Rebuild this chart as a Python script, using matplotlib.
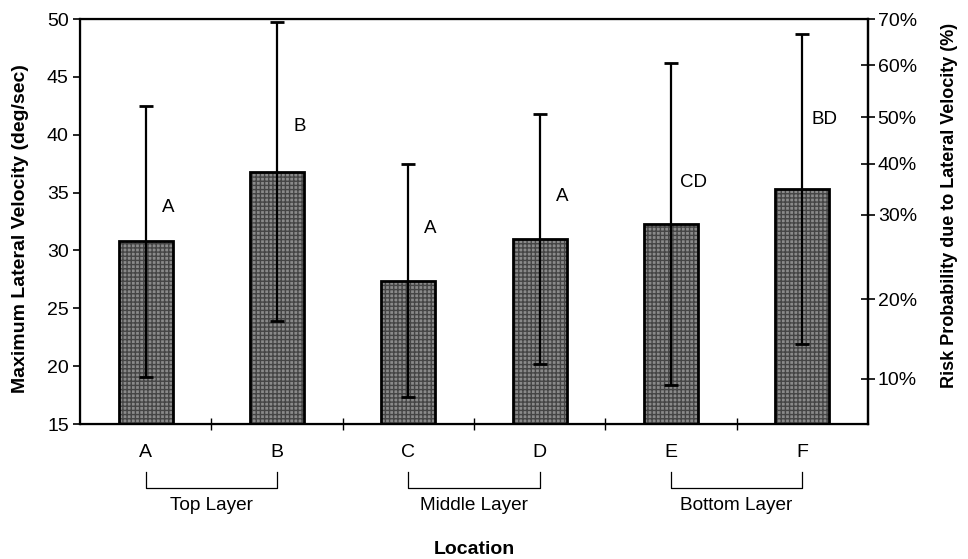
import numpy as np
import matplotlib
matplotlib.use("Agg")
import matplotlib.pyplot as plt
import matplotlib.transforms as mtransforms

plt.rcParams["font.family"] = ["Liberation Sans", "DejaVu Sans"]

# values
locations = ["A", "B", "C", "D", "E", "F"]
mean_vel = [30.8, 36.8, 27.4, 31.0, 32.3, 35.3]
sd_vel = [11.7, 12.9, 10.1, 10.8, 13.9, 13.4]
group_letters = ["A", "B", "A", "A", "CD", "BD"]
letter_y = [33.7, 40.7, 31.9, 34.7, 35.9, 41.3]
layers = ["Top Layer", "Middle Layer", "Bottom Layer"]
layer_span = [(0, 1), (2, 3), (4, 5)]
# right axis: risk tick positions on the velocity scale
risk_pos = [18.9, 25.8, 33.1, 37.5, 41.5, 46.0, 50.0]
risk_labels = ["10%", "20%", "30%", "40%", "50%", "60%", "70%"]


def main() -> None:
    fig = plt.figure(figsize=(9.68, 5.59), dpi=100)
    ax = fig.add_axes([0.0826, 0.2415, 0.8141, 0.7245])
    x = np.arange(len(locations))

    # stippled grey bars with black outline
    ax.bar(x, [m - 15 for m in mean_vel], bottom=15, width=0.41,
           color="#8a8a8a", edgecolor="#454545", hatch="++++", linewidth=0, zorder=2)
    ax.bar(x, [m - 15 for m in mean_vel], bottom=15, width=0.41,
           fill=False, edgecolor="black", linewidth=2, zorder=3)
    ax.errorbar(x, mean_vel, yerr=sd_vel, fmt="none", ecolor="black",
                elinewidth=1.6, capsize=5, capthick=2, zorder=4)

    for xi, lab, ly in zip(x, group_letters, letter_y):
        ax.text(xi + 0.17, ly, lab, fontsize=13.5, ha="center", va="center")

    ax.set_xlim(-0.5, 5.5)
    ax.set_ylim(15, 50)
    ax.set_yticks(np.arange(15, 51, 5))
    ax.tick_params(axis="y", direction="out", length=5, width=1.2, labelsize=14, pad=3)
    ax.set_xticks(np.arange(0.5, 5, 1))
    ax.set_xticklabels([])
    ax.tick_params(axis="x", direction="inout", length=8, width=1)
    for s in ax.spines.values():
        s.set_linewidth(1.6)

    fig.text(0.021, 0.592, "Maximum Lateral Velocity (deg/sec)", rotation=90,
             fontsize=14, fontweight="bold", ha="center", va="center")

    ax2 = ax.twinx()
    ax2.set_ylim(15, 50)
    ax2.set_yticks(risk_pos)
    ax2.set_yticklabels(risk_labels)
    ax2.tick_params(axis="y", direction="inout", length=10, width=1.2, labelsize=14, pad=2)
    ax2.spines["right"].set_linewidth(1.6)
    fig.text(0.981, 0.633, "Risk Probability due to Lateral Velocity (%)", rotation=90,
             fontsize=13, fontweight="bold", ha="center", va="center")

    # category labels, layer brackets and axis title below the plot
    trans = mtransforms.blended_transform_factory(ax.transData, ax.transAxes)
    for xi, lab in zip(x, locations):
        ax.text(xi, -0.07, lab, transform=trans, fontsize=14, ha="center", va="center")
    for name, (a, b) in zip(layers, layer_span):
        ax.plot([a, a, b, b], [-0.118, -0.158, -0.158, -0.118], transform=trans,
                color="black", linewidth=0.9, clip_on=False)
        ax.text((a + b) / 2, -0.202, name, transform=trans, fontsize=13.7,
                ha="center", va="center")
    ax.text(0.5, -0.31, "Location", transform=ax.transAxes, fontsize=14,
            fontweight="bold", ha="center", va="center")

    fig.savefig("out.png", dpi=100)


main()
